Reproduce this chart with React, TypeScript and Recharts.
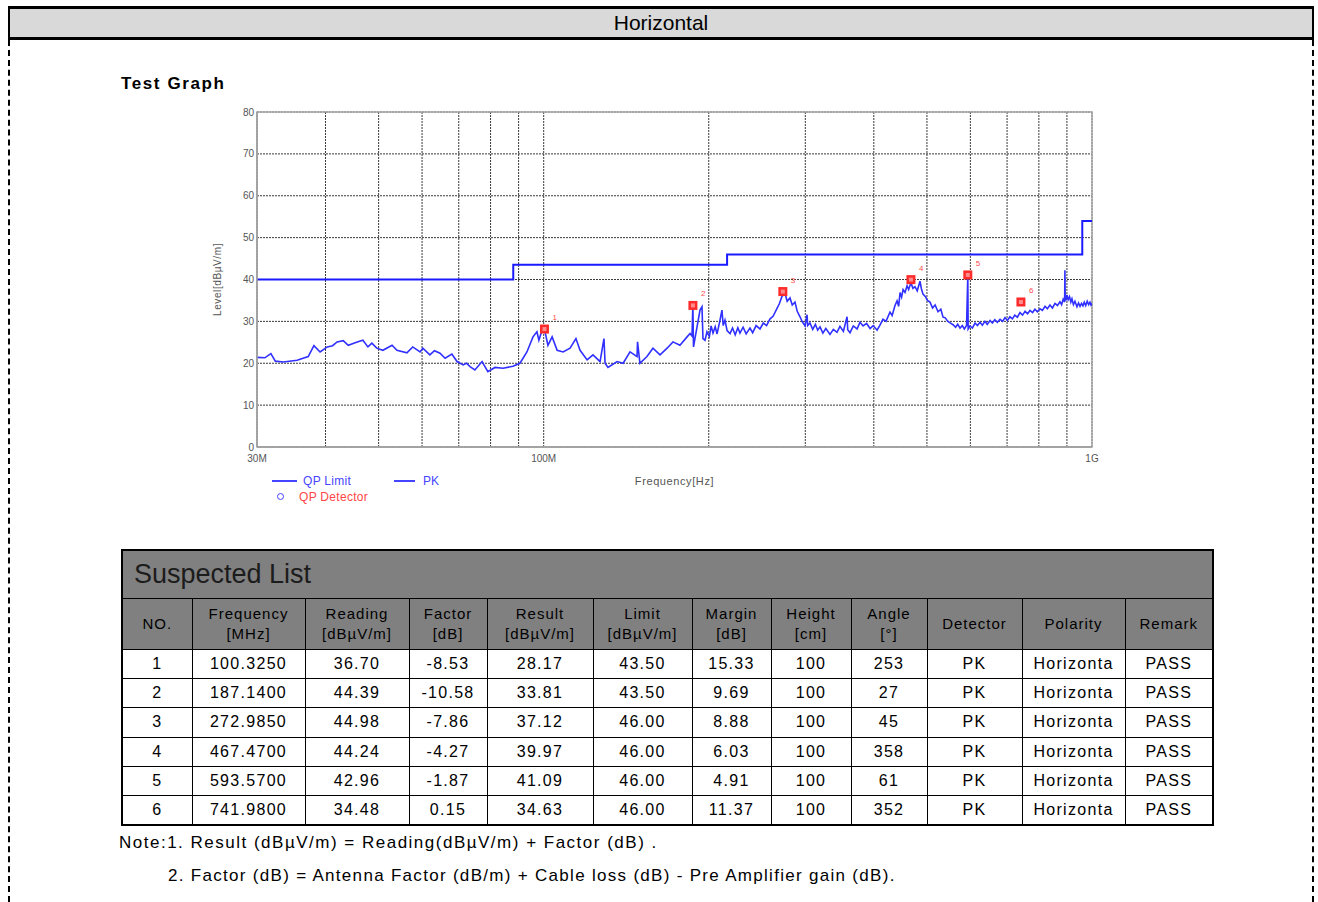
import React from 'react';
import {
  ComposedChart,
  Line,
  Scatter,
  XAxis,
  YAxis,
  CartesianGrid,
  ReferenceArea,
} from 'recharts';

// QP limit steps (MHz, dBuV/m)
const limitFreq = [30, 88, 216, 960, 1000];
const limitLevel = [40, 43.5, 46, 54, 54];

// PK trace (MHz, dBuV/m)
const pkTrace: [number, number][] = [
  [30, 21.4], [31, 21.3], [31.8, 22.3], [32.4, 20.5], [33.5, 20.3], [35.5, 20.7],
  [37.2, 21.6], [38.1, 24.2], [39.1, 22.7], [40.3, 23.9], [41.2, 24.2], [42.0, 25.1],
  [43.1, 25.4], [44.0, 24.3], [45.7, 25.1], [46.8, 25.5], [47.8, 23.9], [48.6, 24.8],
  [49.6, 23.6], [50.9, 23.1], [52.9, 24.3], [54.0, 23.1], [56.3, 22.5], [57.7, 23.9],
  [59.5, 22.7], [60.2, 23.6], [62.0, 22.0], [63.2, 23.0], [64.7, 22.4], [66.1, 21.2],
  [68.0, 22.2], [69.5, 20.4], [71.3, 19.6], [72.3, 20.0], [73.4, 19.2], [74.9, 18.4],
  [77.2, 20.4], [79.1, 18.0], [81.5, 19.0], [84.3, 18.8], [87.9, 19.3], [90.5, 20.0],
  [93.2, 22.7], [95.6, 26.3], [97.2, 27.5], [98.0, 25.5], [99.3, 27.9], [100.3, 28.2],
  [101.8, 24.3], [103.6, 26.3], [105.8, 23.1], [108.5, 22.7], [111.7, 23.6], [114.5, 25.9],
  [116.5, 23.1], [120.0, 20.8], [123.0, 22.0], [126.7, 20.4], [128.8, 25.9], [129.4, 20.0],
  [131.0, 19.0], [136.1, 20.4], [139.6, 20.0], [143.7, 22.7], [148.0, 21.6], [148.3, 25.1],
  [149.8, 20.0], [154.3, 21.6], [158.2, 23.6], [163.0, 22.0], [167.9, 23.6], [172.1, 25.1],
  [177.2, 24.3], [182.6, 26.3], [184.9, 27.1], [186.4, 26.5], [187.1, 33.8], [187.6, 23.9],
  [190.4, 28.7], [192.8, 32.7], [194.4, 33.5], [195.2, 25.9], [196.9, 25.5], [198.5, 27.5],
  [200.5, 26.4], [202.0, 28.9], [203.6, 27.2], [205.5, 28.7], [207.1, 27.0], [209.0, 29.4],
  [211.4, 32.7], [212.5, 29.0], [214.1, 30.3], [216.0, 27.8], [218.7, 27.1], [221.0, 28.4],
  [223.5, 26.8], [226.0, 28.5], [228.0, 27.2], [231.0, 28.6], [234.0, 27.0], [237.8, 28.4],
  [240.5, 27.3], [244.0, 29.0], [248.0, 28.2], [251.5, 29.6], [255.0, 29.0], [258.7, 30.6],
  [262.0, 31.2], [266.4, 33.1], [269.0, 34.2], [272.1, 36.0], [275.5, 36.7], [278.0, 34.8],
  [281.3, 35.6], [284.0, 33.9], [287.3, 34.6], [290.0, 32.4], [293.4, 31.1], [296.5, 29.8],
  [299.7, 28.9], [302.2, 31.6], [303.0, 29.0], [305.9, 29.6], [309.5, 28.1], [313.0, 29.3],
  [316.0, 27.9], [319.1, 28.7], [323.0, 27.2], [327.0, 28.3], [332.8, 26.9], [337.5, 28.1],
  [342.7, 27.4], [347.0, 28.8], [352.0, 27.6], [357.5, 31.1], [358.5, 28.0], [362.0, 27.3],
  [367.0, 28.9], [372.9, 28.2], [377.5, 29.8], [382.4, 28.9], [388.0, 29.5], [393.8, 28.3],
  [399.0, 29.0], [405.5, 27.9], [410.0, 29.0], [415.7, 30.5], [421.0, 30.0], [428.1, 32.2],
  [432.0, 31.4], [437.2, 33.8], [441.0, 34.9], [444.0, 33.6], [446.6, 36.9], [449.5, 35.8],
  [452.3, 37.6], [456.0, 36.9], [460.0, 38.5], [463.0, 37.6], [467.5, 39.2], [471.5, 37.9],
  [475.5, 38.3], [480.0, 37.3], [485.6, 39.6], [488.5, 37.8], [491.8, 36.5], [497.0, 35.9],
  [501.0, 35.0], [506.4, 34.6], [512.0, 33.2], [517.5, 33.9], [523.8, 32.3], [530.0, 32.9],
  [535.0, 31.0], [539.5, 30.9], [546.0, 30.0], [552.0, 29.6], [558.0, 29.2], [564.0, 28.6],
  [569.0, 29.3], [574.6, 28.4], [580.0, 29.0], [585.0, 28.2], [590.5, 29.0], [593.6, 41.0],
  [594.5, 28.2], [599.0, 28.9], [605.0, 28.4], [612.0, 29.6], [618.0, 29.0], [624.9, 29.8],
  [631.0, 29.1], [638.0, 30.0], [644.0, 29.3], [651.8, 30.2], [658.0, 29.6], [665.0, 30.4],
  [672.0, 29.8], [679.5, 30.5], [687.0, 30.0], [694.0, 30.9], [701.0, 30.2], [708.6, 31.1],
  [716.0, 30.6], [723.0, 31.5], [731.0, 31.0], [739.1, 32.1], [747.0, 31.5], [755.0, 32.4],
  [763.0, 31.8], [770.8, 32.6], [779.0, 32.1], [787.0, 32.9], [795.0, 32.3], [803.8, 33.0],
  [812.0, 32.6], [821.0, 33.6], [829.0, 33.0], [838.2, 33.9], [847.0, 33.2], [856.0, 34.3],
  [865.0, 33.8], [874.1, 34.7], [880.0, 34.0], [886.0, 35.3], [891.5, 34.6], [892.5, 42.2],
  [893.5, 35.8], [897.0, 35.0], [900.2, 36.3], [905.0, 35.2], [910.0, 35.9], [915.0, 34.6],
  [919.3, 35.4], [925.0, 34.0], [931.0, 34.8], [938.8, 33.5], [945.0, 34.4], [951.0, 33.6],
  [957.0, 34.3], [962.7, 33.7], [968.0, 34.6], [974.0, 33.8], [980.0, 34.8], [986.0, 34.0],
  [991.6, 34.6], [996.0, 33.9], [1000, 34.3],
];

// axis ticks
const xTicks = [30, 40, 50, 60, 70, 80, 90, 100, 200, 300, 400, 500, 600, 700, 800, 900, 1000];
const xTickLabels: Record<number, string> = { 30: '30M', 100: '100M', 1000: '1G' };
const yTicks = [0, 10, 20, 30, 40, 50, 60, 70, 80];

// suspected list
const suspNo = [1, 2, 3, 4, 5, 6];
const suspFreq = [100.325, 187.14, 272.985, 467.47, 593.57, 741.98];
const suspReading = [36.7, 44.39, 44.98, 44.24, 42.96, 34.48];
const suspFactor = [-8.53, -10.58, -7.86, -4.27, -1.87, 0.15];
const suspResult = [28.17, 33.81, 37.12, 39.97, 41.09, 34.63];
const suspLimit = [43.5, 43.5, 46, 46, 46, 46];
const suspMargin = [15.33, 9.69, 8.88, 6.03, 4.91, 11.37];
const suspHeight = [100, 100, 100, 100, 100, 100];
const suspAngle = [253, 27, 45, 358, 61, 352];
const suspDetector = ['PK', 'PK', 'PK', 'PK', 'PK', 'PK'];
const suspPolarity = ['Horizonta', 'Horizonta', 'Horizonta', 'Horizonta', 'Horizonta', 'Horizonta'];
const suspRemark = ['PASS', 'PASS', 'PASS', 'PASS', 'PASS', 'PASS'];

const headers = [
  ['NO.'], ['Frequency', '[MHz]'], ['Reading', '[dBµV/m]'], ['Factor', '[dB]'],
  ['Result', '[dBµV/m]'], ['Limit', '[dBµV/m]'], ['Margin', '[dB]'], ['Height', '[cm]'],
  ['Angle', '[°]'], ['Detector'], ['Polarity'], ['Remark'],
];
const colWidths = [70, 113, 104, 78, 106, 99, 79, 80, 76, 95, 103, 88];

const limitData = limitFreq.map((f, i) => ({ f, v: limitLevel[i] }));
const pkData = pkTrace.map(([f, v]) => ({ f, v }));
const markerData = suspNo.map((no, i) => ({ no, f: suspFreq[i], v: suspResult[i] }));

const FONT = 'Arial, "Liberation Sans", sans-serif';

const MarkerShape = (props: any) => {
  const { cx, cy, payload } = props;
  if (cx == null || cy == null) return null;
  return (
    <g>
      <rect x={cx - 4.5} y={cy - 4.5} width={9} height={9} fill="#ff2a2a" />
      <rect x={cx - 2} y={cy - 2} width={4} height={4} fill="#ff8c8c" />
      <text x={cx + 8} y={cy - 9} fill="#ff4a4a" fontSize={8} fontFamily={FONT}>
        {payload.no}
      </text>
    </g>
  );
};

const YLabel = (props: any) => {
  const vb = props.viewBox || { x: 227, y: 112, width: 30, height: 335 };
  const x = vb.x - 6;
  const y = vb.y + vb.height / 2;
  return (
    <text
      x={x}
      y={y}
      transform={`rotate(-90 ${x} ${y})`}
      textAnchor="middle"
      fontSize={10}
      letterSpacing={0.6}
      fill="#555"
      fontFamily={FONT}
    >
      Level[dBµV/m]
    </text>
  );
};

const TestGraph = () => (
  <ComposedChart
    width={920}
    height={420}
    margin={{ top: 12, right: 28, bottom: 33, left: 27 }}
  >
    <CartesianGrid stroke="#3a3a3a" strokeDasharray="2 1" strokeWidth={1} />
    <ReferenceArea x1={30} x2={1000} y1={0} y2={80} fill="none" stroke="#a8a8a8" strokeWidth={1.5} />
    <XAxis
      dataKey="f"
      type="number"
      scale="log"
      domain={[30, 1000]}
      ticks={xTicks}
      allowDataOverflow
      interval={0}
      tickFormatter={(t: number) => xTickLabels[t] || ''}
      tickLine={false}
      tickSize={6}
      tickMargin={2}
      height={40}
      axisLine={{ stroke: '#a0a0a0', strokeWidth: 1.5 }}
      tick={{ fontSize: 10, fill: '#555', fontFamily: FONT }}
      label={{ value: 'Frequency[Hz]', position: 'insideBottom', offset: 2, fontSize: 11, letterSpacing: 0.6, fill: '#555', fontFamily: FONT }}
    />
    <YAxis
      type="number"
      domain={[0, 80]}
      ticks={yTicks}
      interval={0}
      width={30}
      tickLine={false}
      tickSize={2}
      tickMargin={1}
      axisLine={{ stroke: '#a0a0a0', strokeWidth: 1.5 }}
      tick={{ fontSize: 10, fill: '#555', fontFamily: FONT }}
      label={<YLabel />}
    />
    <Line
      data={limitData}
      dataKey="v"
      type="stepAfter"
      stroke="#1a1aff"
      strokeWidth={2}
      dot={false}
      isAnimationActive={false}
    />
    <Line
      data={pkData}
      dataKey="v"
      type="linear"
      stroke="#3030ff"
      strokeWidth={1.6}
      dot={false}
      isAnimationActive={false}
    />
    <Scatter
      data={markerData}
      dataKey="v"
      shape={<MarkerShape />}
      isAnimationActive={false}
    />
  </ComposedChart>
);

const cellBorder = '1.5px solid #000';

export default function App() {
  const rows = suspNo.map((no, i) => [
    String(no),
    suspFreq[i].toFixed(4),
    suspReading[i].toFixed(2),
    suspFactor[i].toFixed(2),
    suspResult[i].toFixed(2),
    suspLimit[i].toFixed(2),
    suspMargin[i].toFixed(2),
    String(suspHeight[i]),
    String(suspAngle[i]),
    suspDetector[i],
    suspPolarity[i],
    suspRemark[i],
  ]);

  return (
    <div
      style={{
        position: 'absolute',
        left: 0,
        top: 0,
        width: 1318,
        height: 902,
        background: '#fff',
        fontFamily: FONT,
        overflow: 'hidden',
      }}
    >
      {/* header band */}
      <div
        style={{
          position: 'absolute',
          left: 8,
          top: 6,
          width: 1306,
          height: 34,
          boxSizing: 'border-box',
          background: '#d9d9d9',
          borderTop: '3px solid #000',
          borderBottom: '3px solid #000',
          borderLeft: '2px solid #000',
          borderRight: '2px solid #000',
          textAlign: 'center',
          fontSize: 21,
          lineHeight: '28px',
          color: '#000',
        }}
      >
        Horizontal
      </div>
      <div style={{ position: 'absolute', left: 8, top: 40, height: 862, borderLeft: '2px dashed #000' }} />
      <div style={{ position: 'absolute', left: 1312, top: 40, height: 862, borderLeft: '2px dashed #000' }} />

      <div
        style={{
          position: 'absolute',
          left: 121,
          top: 74,
          fontSize: 17,
          fontWeight: 'bold',
          letterSpacing: 1.6,
          color: '#000',
        }}
      >
        Test Graph
      </div>

      <div style={{ position: 'absolute', left: 200, top: 100, width: 920, height: 420 }}>
        <TestGraph />
      </div>

      {/* legend */}
      <div style={{ position: 'absolute', left: 272, top: 480, width: 25, height: 2, background: '#4545ff' }} />
      <div style={{ position: 'absolute', left: 303, top: 474, fontSize: 12, letterSpacing: 0.3, color: '#4545ff' }}>QP Limit</div>
      <div style={{ position: 'absolute', left: 394, top: 480, width: 21, height: 2, background: '#4545ff' }} />
      <div style={{ position: 'absolute', left: 423, top: 474, fontSize: 12, color: '#4545ff' }}>PK</div>
      <div
        style={{
          position: 'absolute',
          left: 277,
          top: 493,
          width: 5,
          height: 5,
          border: '1.5px solid #4545ff',
          borderRadius: '50%',
        }}
      />
      <div style={{ position: 'absolute', left: 299, top: 490, fontSize: 12, letterSpacing: 0.3, color: '#ff4545' }}>QP Detector</div>

      {/* suspected list */}
      <table
        style={{
          position: 'absolute',
          left: 121,
          top: 549,
          width: 1091,
          borderCollapse: 'collapse',
          tableLayout: 'fixed',
          border: '2px solid #000',
          fontFamily: FONT,
        }}
      >
        <colgroup>
          {colWidths.map((w, i) => (
            <col key={i} style={{ width: w }} />
          ))}
        </colgroup>
        <tbody>
          <tr style={{ height: 48 }}>
            <td
              colSpan={12}
              style={{
                background: '#808080',
                border: cellBorder,
                fontSize: 27,
                color: '#1c1c1c',
                paddingLeft: 11,
                paddingTop: 2,
              }}
            >
              Suspected List
            </td>
          </tr>
          <tr style={{ height: 51 }}>
            {headers.map((h, i) => (
              <td
                key={i}
                style={{
                  background: '#808080',
                  border: cellBorder,
                  textAlign: 'center',
                  fontSize: 15,
                  letterSpacing: 1,
                  lineHeight: '20px',
                  color: '#000',
                  padding: 0,
                }}
              >
                {h.map((line, j) => (
                  <div key={j}>{line}</div>
                ))}
              </td>
            ))}
          </tr>
          {rows.map((r, ri) => (
            <tr key={ri} style={{ height: 29.4 }}>
              {r.map((c, ci) => (
                <td
                  key={ci}
                  style={{
                    border: cellBorder,
                    textAlign: 'center',
                    fontSize: 16,
                    letterSpacing: 1.3,
                    color: '#000',
                    padding: 0,
                  }}
                >
                  {c}
                </td>
              ))}
            </tr>
          ))}
        </tbody>
      </table>

      <div style={{ position: 'absolute', left: 119, top: 833, fontSize: 17, letterSpacing: 1.5, color: '#000' }}>
        Note:1. Result (dBµV/m) = Reading(dBµV/m) + Factor (dB) .
      </div>
      <div style={{ position: 'absolute', left: 168, top: 866, fontSize: 17, letterSpacing: 1.3, color: '#000' }}>
        2. Factor (dB) = Antenna Factor (dB/m) + Cable loss (dB) - Pre Amplifier gain (dB).
      </div>
    </div>
  );
}
